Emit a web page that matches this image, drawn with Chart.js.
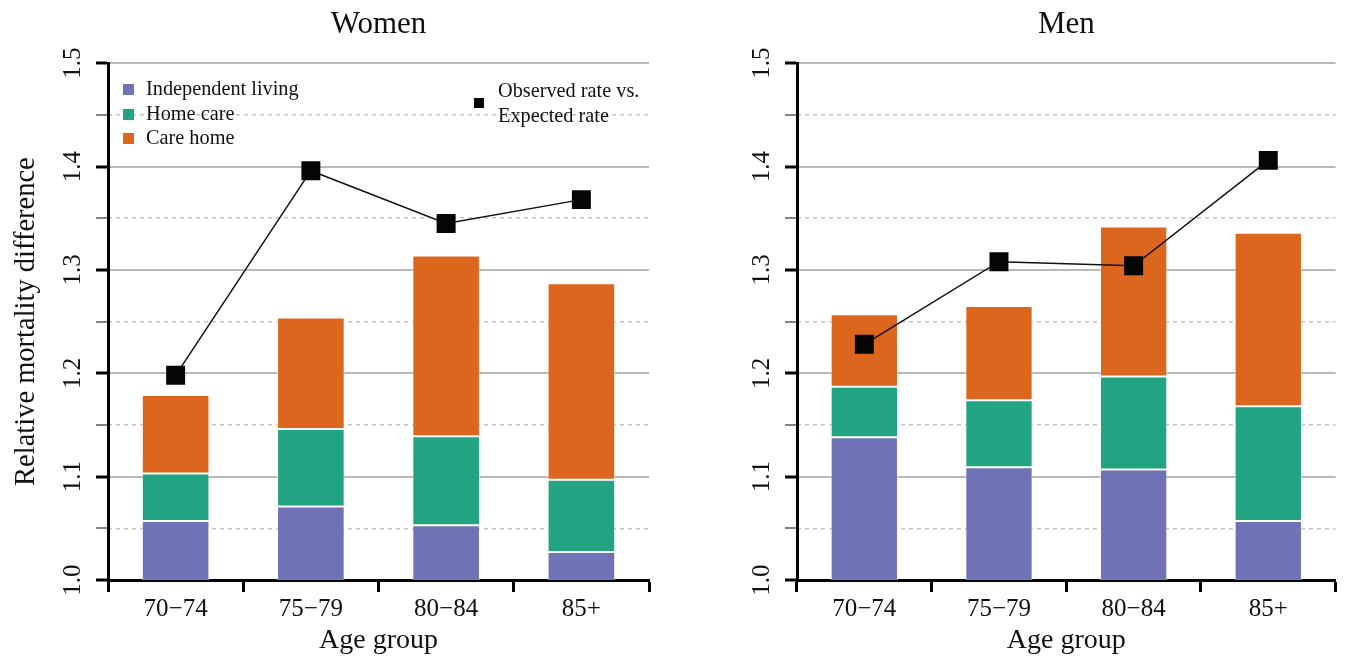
<!DOCTYPE html>
<html>
<head>
<meta charset="utf-8">
<script src="https://cdn.jsdelivr.net/npm/chart.js@4"></script>
<style>
  body { margin: 0; background: #fff; width: 1349px; height: 657px; position: relative; overflow: hidden; }
  .panel { position: absolute; top: 0; }
  .legend { position: absolute; font-family: "Liberation Serif", serif; font-size: 20.3px; color: #111; line-height: 24.5px; }
  .legend .sw { display: inline-block; width: 11px; height: 11px; margin-right: 12px; vertical-align: -0px; }
</style>
</head>
<body>
<div class="panel" style="left:0"><canvas id="women_chart" width="674" height="657"></canvas></div>
<div class="panel" style="left:674px"><canvas id="men_chart" width="675" height="657"></canvas></div>

<div class="legend" style="left:123px; top:76px">
  <div><span class="sw" style="background:#6f72b4"></span>Independent living</div>
  <div><span class="sw" style="background:#22a381"></span>Home care</div>
  <div><span class="sw" style="background:#dd661f"></span>Care home</div>
</div>
<div class="legend" style="left:474px; top:78px">
  <div style="position:absolute; left:0; top:20px; width:10px; height:10px; background:#050505"></div>
  <div style="padding-left:24px; white-space:nowrap">Observed rate vs.<br>Expected rate</div>
</div>

<script>
const ageGroups = ["70\u221274", "75\u221279", "80\u221284", "85+"];

// cumulative top of each stacked segment (bars start at 1.0)
const womenIndependent = [1.057, 1.071, 1.053, 1.027];
const womenHomeCare = [1.103, 1.146, 1.139, 1.097];
const womenCareHome = [1.179, 1.254, 1.314, 1.287];
const womenObserved = [1.198, 1.396, 1.345, 1.368];

const menIndependent = [1.138, 1.109, 1.107, 1.057];
const menHomeCare = [1.187, 1.174, 1.197, 1.168];
const menCareHome = [1.257, 1.265, 1.342, 1.336];
const menObserved = [1.228, 1.308, 1.304, 1.406];

const yMin = 1.0;
const yMax = 1.5;
const yStep = 0.05;

const serif = "'Liberation Serif', 'Times New Roman', serif";
const isMajor = (v) => Math.round(v * 100) % 10 === 0;

const floating = (lower, upper) => upper.map((v, i) => [lower ? lower[i] : yMin, v]);

const createPanel = (id, title, indep, home, care, observed, yAxisWidth, padRight, showYTitle) => {
  const ctx = document.getElementById(id);
  const barStyle = {
    borderColor: "rgba(255, 255, 255, 0.5)",
    borderWidth: 1,
    borderSkipped: false,
    barPercentage: 0.5,
    categoryPercentage: 1.0,
    order: 1,
  };
  return new Chart(ctx, {
    type: "bar",
    data: {
      labels: ageGroups,
      datasets: [
        {
          type: "line",
          label: "Observed rate vs. Expected rate",
          data: observed,
          borderColor: "#111",
          borderWidth: 1.5,
          pointStyle: "rect",
          pointRadius: 13.4,
          pointBackgroundColor: "#050505",
          pointBorderWidth: 0,
          tension: 0,
          order: 0,
        },
        { label: "Independent living", data: floating(null, indep), backgroundColor: "#6f72b4", ...barStyle },
        { label: "Home care", data: floating(indep, home), backgroundColor: "#22a381", ...barStyle },
        { label: "Care home", data: floating(home, care), backgroundColor: "#dd661f", ...barStyle },
      ],
    },
    options: {
      responsive: false,
      devicePixelRatio: 1,
      animation: false,
      layout: { padding: { left: 0, right: padRight, top: 0, bottom: 0 } },
      plugins: {
        legend: { display: false },
        tooltip: { enabled: false },
        title: {
          display: true,
          text: title,
          fullSize: false,
          color: "#111",
          font: { family: serif, size: 31, weight: "normal" },
          padding: { top: 6, bottom: 20 },
        },
      },
      scales: {
        x: {
          type: "category",
          stacked: true,
          offset: true,
          grid: {
            offset: true,
            drawOnChartArea: false,
            drawTicks: true,
            tickLength: 12,
            tickWidth: 3,
            tickColor: "#000",
          },
          border: { display: true, color: "#000", width: 3 },
          ticks: {
            color: "#111",
            font: { family: serif, size: 25 },
            padding: 2,
            maxRotation: 0,
            autoSkip: false,
          },
          title: {
            display: true,
            text: "Age group",
            color: "#111",
            font: { family: serif, size: 28 },
            padding: { top: 0, bottom: 0 },
          },
          afterFit: (scale) => { scale.height = 77; },
        },
        y: {
          position: "left",
          stacked: false,
          min: yMin,
          max: yMax,
          grid: {
            color: (c) => (c.tick && isMajor(c.tick.value) ? "#b8b8b8" : "rgba(0,0,0,0)"),
            lineWidth: 2,
            drawTicks: true,
            tickLength: 12,
            tickWidth: (c) => (c.tick && isMajor(c.tick.value) ? 3 : 1.2),
            tickColor: (c) => (c.tick && isMajor(c.tick.value) ? "#000" : "#333"),
          },
          border: { display: true, color: "#000", width: 3 },
          ticks: {
            stepSize: yStep,
            autoSkip: false,
            minRotation: 90,
            maxRotation: 90,
            crossAlign: "center",
            padding: 7,
            color: "#111",
            font: { family: serif, size: 25 },
            callback: (v) => (isMajor(v) ? v.toFixed(1) : ""),
          },
          title: {
            display: showYTitle,
            text: "Relative mortality difference",
            color: "#111",
            font: { family: serif, size: 28.5 },
            padding: { top: 9, bottom: 0 },
          },
          afterFit: (scale) => { scale.width = yAxisWidth; },
        },
        yMinor: {
          position: "left",
          min: yMin,
          max: yMax,
          grid: {
            color: (c) => (c.tick && !isMajor(c.tick.value) ? "#c4c4c4" : "rgba(0,0,0,0)"),
            lineWidth: 1.5,
            drawTicks: false,
          },
          border: { display: false, dash: [4, 4] },
          ticks: { display: false, stepSize: yStep },
          afterFit: (scale) => { scale.width = 0; },
        },
      },
    },
  });
};

createPanel("women_chart", "Women", womenIndependent, womenHomeCare, womenCareHome, womenObserved, 108, 25, true);
createPanel("men_chart", "Men", menIndependent, menHomeCare, menCareHome, menObserved, 123, 11, false);
</script>
</body>
</html>
